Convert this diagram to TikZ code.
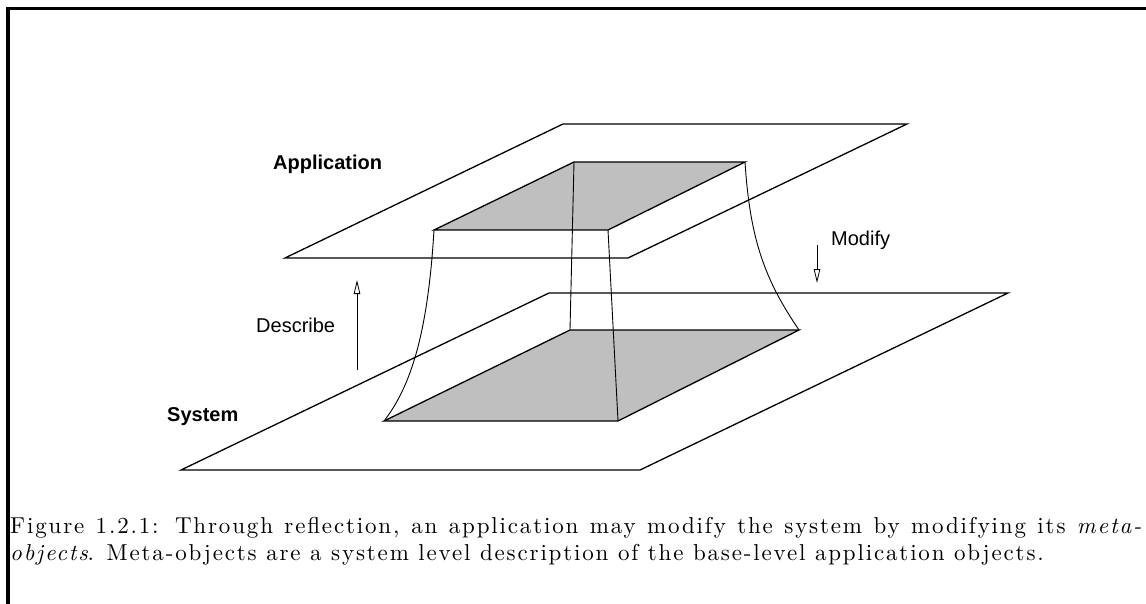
\documentclass[tikz,border=0pt]{standalone}
\usepackage{fontspec}
\newfontfamily\labelfont{Liberation Sans}
\newfontfamily\capfont{lmroman10-regular.otf}[ItalicFont=lmroman10-italic.otf, LetterSpace=8]
\usetikzlibrary{arrows.meta}
\definecolor{facegray}{gray}{0.75}
\newcommand{\capstyle}{\capfont\fontsize{23}{27}\selectfont}
\begin{document}
\begin{tikzpicture}[x=1pt,y=-1pt,
  frame/.style={line width=3.3pt, line join=miter},
  plane/.style={line width=1.3pt, line join=miter},
  face/.style={line width=1.3pt, line join=miter, fill=facegray},
  riser/.style={line width=0.9pt},
  flow/.style={line width=0.9pt, -{Triangle[length=14pt,width=6.5pt,fill=white,line width=0.8pt]}},
  lbl/.style={anchor=base west, inner sep=0pt, font=\labelfont\fontsize{20}{24}\selectfont},
  caption/.style={anchor=base west, inner sep=0pt}]
\useasboundingbox (0,0) rectangle (1146,604);

% open frame round the figure
\draw[frame] (8,610) -- (8,8.5) -- (1150,8.5);

% application plane and its raised face
\draw[plane] (563,124) -- (907,124) -- (628,258) -- (285,258) -- cycle;
\coordinate (tNW) at (574,162);
\coordinate (tNE) at (745,162);
\coordinate (tSE) at (608,230);
\coordinate (tSW) at (434,230);
\draw[face] (tNW) -- (tNE) -- (tSE) -- (tSW) -- cycle;

% system plane and its meta-object face
\draw[plane] (549,293) -- (1008,293) -- (640,470) -- (181,470) -- cycle;
\coordinate (bNW) at (570,330);
\coordinate (bNE) at (799,330);
\coordinate (bSE) at (618,421);
\coordinate (bSW) at (384,421);
\draw[face] (bNW) -- (bNE) -- (bSE) -- (bSW) -- cycle;

% edges joining the two faces
\draw[riser] (tSW) .. controls (428,330) and (412,385) .. (bSW);
\draw[riser] (tNE) .. controls (750,240) and (765,280) .. (bNE);
\draw[riser] (tNW) -- (bNW);
\draw[riser] (tSE) -- (bSE);

% labels
\node[lbl] (app) at (273,170) {\bfseries Application};
\node[lbl] (sys) at (167,421) {\bfseries System};
\node[lbl] (desc) at (256,332) {Describe};
\node[lbl] (mod) at (831,246) {Modify};

% describe / modify arrows
\coordinate (dFrom) at (357,370);
\coordinate (dTo) at (357,280);
\coordinate (mFrom) at (817,245);
\coordinate (mTo) at (817,283);
\draw[flow] (dFrom) -- (dTo);
\draw[flow] (mFrom) -- (mTo);

% caption
\node[caption] (cap1) at (10,533) {\capstyle\makebox[1133pt][s]{Figure 1.2.1: Through reflection, an application may modify the system by modifying its \textit{meta-}}};
\node[caption] (cap2) at (10,560) {\capstyle\textit{objects}. Meta-objects are a system level description of the base-level application objects.};
\end{tikzpicture}
\end{document}
